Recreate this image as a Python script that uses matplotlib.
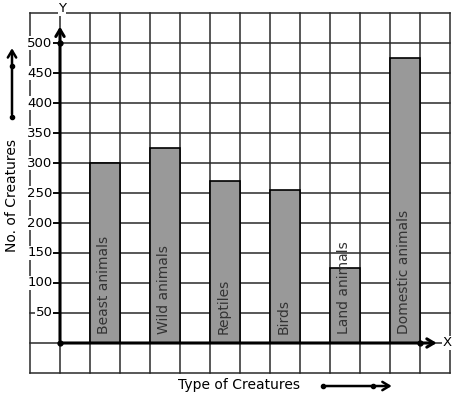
import matplotlib.pyplot as plt

# data
categories = ['Beast animals', 'Wild animals', 'Reptiles', 'Birds', 'Land animals', 'Domestic animals']
values = [300, 325, 270, 255, 125, 475]
ytick_values = [50, 100, 150, 200, 250, 300, 350, 400, 450, 500]

fig = plt.figure(figsize=(4.57, 3.99), dpi=100)
ax = fig.add_axes([0, 0, 1, 1])
# one grid column = 1 x unit (30 px), one grid row = 50 units (30 px)
ax.set_xlim(-2, 397 / 30)
ax.set_ylim(-56 / 0.6, 343 / 0.6)
ax.axis('off')

grid_kw = dict(color='#2a2a2a', lw=1.1, zorder=1)
for gx in range(-1, 14):
    ax.plot([gx, gx], [-50, 550], **grid_kw)
for gy in range(-50, 551, 50):
    ax.plot([-1, 13], [gy, gy], **grid_kw)

# bars
xpos = [2 * i + 1.5 for i in range(len(categories))]
ax.bar(xpos, values, width=1, color='#999999', edgecolor='black', linewidth=1.2, zorder=2)
for x, name in zip(xpos, categories):
    ax.text(x - 0.03, 15, name, rotation=90, ha='center', va='bottom', fontsize=10,
            color='#333333', zorder=3)

# y ticks
for v in ytick_values:
    ax.plot([-0.25, 0], [v, v], color='black', lw=1.2, zorder=3)
    ax.text(-0.25, v, str(v), ha='right', va='center', fontsize=9.5,
            bbox=dict(facecolor='white', edgecolor='none', pad=0.3), zorder=3)

# axes with arrows
ax.annotate('', xy=(0, 532), xytext=(0, 0),
            arrowprops=dict(arrowstyle='->,head_length=0.5,head_width=0.3', lw=2.2, color='black'),
            zorder=4)
ax.annotate('', xy=(12.65, 0), xytext=(0, 0),
            arrowprops=dict(arrowstyle='->,head_length=0.5,head_width=0.3', lw=2.2, color='black'),
            zorder=4)
ax.plot([0, 0, 12], [500, 0, 0], 'o', color='black', ms=3.5, zorder=5)
ax.text(12.9, 0, 'X', ha='center', va='center', fontsize=9.5,
        bbox=dict(facecolor='white', edgecolor='none', pad=0.3), zorder=5)
ax.text(0.07, 557, 'Y', ha='center', va='center', fontsize=9.5,
        bbox=dict(facecolor='white', edgecolor='none', pad=0.3), zorder=5)

# axis titles with little arrows
ax.text(5.97, -70, 'Type of Creatures', ha='center', va='center', fontsize=10)
ax.annotate('', xy=(11.15, -71.7), xytext=(8.77, -71.7),
            arrowprops=dict(arrowstyle='->,head_length=0.5,head_width=0.3', lw=1.8, color='black'))
ax.plot([8.77, 10.43], [-71.7, -71.7], 'o', color='black', ms=3)

ax.text(-1.6, 246, 'No. of Creatures', rotation=90, ha='center', va='center', fontsize=10)
ax.annotate('', xy=(-1.6, 496), xytext=(-1.6, 376.7),
            arrowprops=dict(arrowstyle='->,head_length=0.5,head_width=0.3', lw=1.8, color='black'))
ax.plot([-1.6, -1.6], [376.7, 461.7], 'o', color='black', ms=3)

fig.savefig('out.png', dpi=100)
